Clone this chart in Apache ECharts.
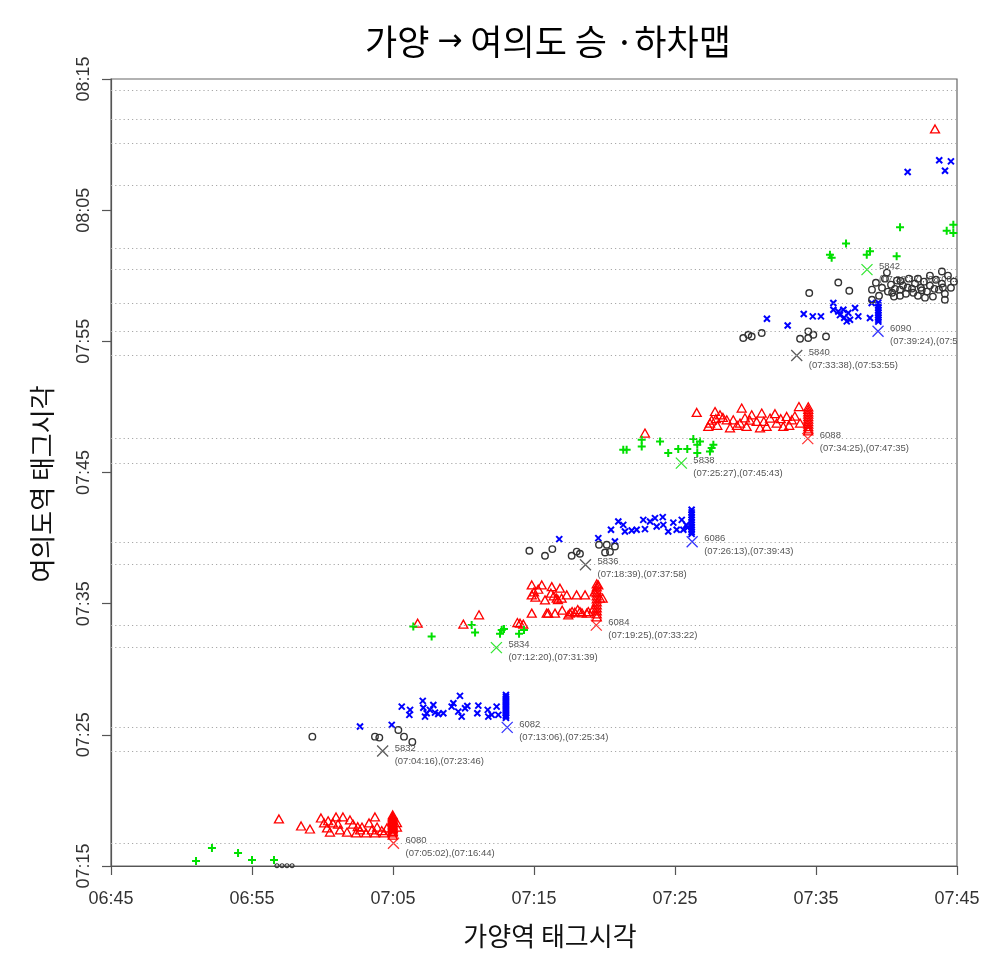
<!DOCTYPE html>
<html><head><meta charset="utf-8">
<script src="https://cdn.jsdelivr.net/npm/echarts@6/dist/echarts.min.js"></script>
<style>html,body{margin:0;padding:0;background:#fff}#c{width:1000px;height:974px}</style>
</head><body><div id="c"></div>
<script>
// Axis origins (minutes of day)
const X0 = 405; // 06:45
const Y0 = 435; // 07:15
const xTickLabels = ['06:45','06:55','07:05','07:15','07:25','07:35','07:45'];
const yTickLabels = ['07:15','07:25','07:35','07:45','07:55','08:05','08:15'];

// Annotated trains: id, Gayang tag time, Yeouido tag time
const annTrain = ['6080','5832','6082','5834','6084','5836','6086','5838','6088','5840','6090','5842'];
const annDep = ['07:05:02','07:04:16','07:13:06','07:12:20','07:19:25','07:18:39','07:26:13','07:25:27','07:34:25','07:33:38','07:39:24','07:38:37'];
const annArr = ['07:16:44','07:23:46','07:25:34','07:31:39','07:33:22','07:37:58','07:39:43','07:45:43','07:47:35','07:53:55','07:55:46','08:00:28'];

// Dotted reference lines (arrival times at Yeouido)
const gridTimes = ['07:16:44','07:23:46','07:25:34','07:31:39','07:33:22','07:37:58','07:39:43','07:45:43','07:47:35','07:53:55','07:55:46','07:57:52','08:00:28','08:02:04','08:06:52','08:10:04','08:11:54','08:14:07'];

// Passenger points [Gayang tag, Yeouido tag] in minutes of day
const green5830 = [[411.03,435.38],[412.16,436.37],[414.01,435.99],[415.00,435.46],[416.56,435.46]];
const black5830 = [[416.77,435.02],[417.13,435.02],[417.48,435.02],[417.84,435.02]];
const red6080 = [[416.91,438.59],[418.48,438.05],[419.11,437.82],[419.89,438.66],[420.11,438.28],[420.32,437.90],[420.53,437.59],[420.74,438.28],[420.96,438.74],[421.10,438.20],[421.45,438.74],[421.74,437.59],[422.16,438.20],[422.38,437.52],[422.80,437.97],[423.09,437.52],[423.30,438.28],[423.72,438.74],[423.87,437.97],[423.72,437.52],[424.36,437.52],[424.57,437.90],[424.98,438.89],[424.98,438.77],[424.98,438.66],[424.98,438.55],[424.98,438.43],[424.98,438.31],[424.98,438.20],[424.98,438.08],[424.98,437.97],[424.98,437.86],[424.98,437.75],[424.98,437.63],[424.98,437.52],[424.98,437.36],[425.28,437.97],[425.28,438.30],[421.24,437.75],[422.66,437.75],[421.95,438.51],[420.40,438.45],[422.50,438.00],[423.50,437.75],[424.20,437.70]];
const black5832 = [[419.28,444.86],[423.72,444.86],[424.03,444.79],[425.38,445.37],[425.78,444.86],[426.37,444.46]];
const blue6082 = [[422.66,445.63],[424.91,445.76],[425.62,447.15],[426.21,446.90],[426.16,446.52],[427.11,447.59],[427.15,447.07],[427.39,446.65],[427.27,446.39],[427.62,446.90],[427.86,447.28],[427.98,446.69],[428.21,446.59],[428.57,446.65],[429.16,447.15],[429.28,447.41],[429.75,447.97],[429.63,446.77],[429.87,446.39],[430.11,447.03],[430.27,447.20],[431.05,447.23],[430.98,446.65],[431.72,446.90],[431.76,446.39],[432.35,447.15],[432.47,446.52],[432.00,446.52],[433.01,448.04],[433.01,447.89],[433.01,447.74],[433.01,447.58],[433.01,447.43],[433.01,447.28],[433.01,447.13],[433.01,446.97],[433.01,446.82],[433.01,446.67],[433.01,446.52],[433.01,446.40],[433.01,446.29]];
const green5834 = [[426.44,453.25],[427.74,452.49],[430.58,453.38],[430.82,452.80],[432.71,453.00],[432.87,453.06],[432.59,452.70],[433.94,452.70],[434.29,453.00]];
const red6084 = [[426.75,453.51],[429.99,453.44],[431.10,454.15],[433.82,453.56],[434.24,453.44],[434.84,456.43],[434.84,455.67],[435.55,456.43],[436.26,456.30],[436.84,456.18],[436.96,455.42],[434.84,454.28],[436.01,454.28],[436.49,454.28],[437.55,454.28],[438.26,454.40],[438.74,454.28],[438.02,455.67],[438.62,455.67],[439.56,456.43],[439.68,455.42],[439.45,456.51],[439.45,456.28],[439.45,456.05],[439.45,455.83],[439.45,455.60],[439.45,455.37],[439.45,455.14],[439.45,454.91],[439.45,454.68],[439.45,454.45],[439.45,454.22],[439.45,454.00],[435.78,455.29],[436.61,455.42],[437.32,455.67],[435.90,454.28],[437.43,454.15],[438.85,454.40],[439.87,455.42],[434.01,453.51],[435.30,456.10],[436.20,455.80],[437.00,454.50],[437.90,454.35],[435.00,455.90],[435.10,455.50],[436.40,455.60],[436.70,455.30],[437.70,454.40],[438.10,454.55],[438.40,454.30],[439.20,454.60],[439.30,455.90]];
const black5836 = [[434.67,459.03],[435.78,458.65],[436.30,459.16],[437.67,458.65],[438.03,458.97],[438.26,458.80],[439.61,459.49],[440.04,458.90],[440.16,459.49],[440.74,459.36],[440.39,458.95]];
const blue6086 = [[436.79,459.92],[439.56,460.00],[440.74,459.74],[440.46,460.63],[440.98,461.26],[441.33,461.01],[441.45,460.50],[441.93,460.58],[442.28,460.63],[442.75,461.39],[442.87,460.68],[443.23,461.26],[443.58,461.52],[443.70,460.88],[444.13,461.60],[444.17,461.01],[444.52,460.50],[444.88,461.18],[445.12,460.63],[445.48,461.39],[445.59,460.63],[446.18,462.16],[446.18,461.96],[446.18,461.77],[446.18,461.58],[446.18,461.39],[446.18,461.20],[446.18,461.01],[446.18,460.82],[446.18,460.63],[446.18,460.47],[446.18,460.32],[445.80,461.00],[445.90,460.80]];
const green5838 = [[441.33,466.73],[441.57,466.73],[442.64,467.49],[442.64,466.98],[443.94,467.36],[444.52,466.48],[445.23,466.79],[445.87,466.79],[446.30,467.55],[446.58,467.11],[446.58,466.48],[446.77,467.36],[447.48,466.60],[447.72,467.11],[447.60,466.86]];
const red6088 = [[442.87,468.01],[446.54,469.58],[447.84,469.65],[447.48,468.77],[447.36,468.51],[448.19,469.40],[448.67,469.02],[449.13,469.02],[449.73,469.91],[449.61,468.77],[450.08,468.51],[450.44,469.40],[450.79,468.89],[451.15,469.53],[451.50,468.51],[451.74,469.15],[452.09,469.48],[452.21,468.77],[452.68,468.51],[452.92,469.27],[453.28,469.02],[453.79,470.03],[453.87,468.77],[454.45,470.01],[454.45,469.82],[454.45,469.63],[454.45,469.44],[454.45,469.25],[454.45,469.06],[454.45,468.87],[454.45,468.68],[454.45,468.49],[454.45,468.33],[454.45,468.18],[448.90,468.41],[451.03,468.41],[449.96,469.17],[447.90,469.10],[453.10,468.60],[448.00,468.60],[448.40,469.20],[449.40,468.60],[450.30,469.00],[451.30,468.90],[452.50,469.10],[453.50,469.30],[447.60,469.00]];
const black5840 = [[449.84,475.25],[450.20,475.50],[450.44,475.37],[451.15,475.63],[453.87,475.20],[454.45,475.76],[454.45,475.25],[454.81,475.50],[455.71,475.37],[454.52,478.68],[456.58,479.49],[457.36,478.86]];
const blue6090 = [[451.52,476.72],[452.99,476.21],[454.13,477.08],[454.77,476.90],[455.35,476.90],[456.23,477.92],[456.23,477.41],[456.58,477.28],[456.94,477.41],[457.29,477.16],[457.41,476.65],[457.77,477.54],[458.00,476.90],[457.18,476.52],[458.83,476.78],[458.95,477.92],[459.42,477.95],[459.42,477.75],[459.42,477.56],[459.42,477.37],[459.42,477.18],[459.42,476.99],[459.42,476.80],[459.42,476.65],[459.42,476.50],[456.70,477.00],[457.00,476.80]];
const black5844 = [[458.97,478.94],[459.25,479.47],[459.47,478.48],[459.68,479.09],[459.89,479.78],[460.10,478.79],[460.32,479.32],[460.53,478.41],[460.74,479.63],[460.96,478.94],[461.17,479.25],[461.38,478.63],[461.59,479.78],[461.81,479.02],[462.02,479.40],[462.23,478.48],[462.44,479.09],[462.66,479.55],[462.87,478.79],[463.08,479.25],[463.29,478.41],[463.51,479.70],[463.72,478.94],[463.93,479.40],[464.14,478.63],[464.36,480.01],[464.57,479.09],[464.78,479.55],[463.93,480.32],[463.08,480.01],[462.23,479.78],[460.03,480.24],[460.96,478.48],[462.73,478.33],[464.14,478.17],[458.97,478.17],[460.40,478.70],[461.00,479.60],[461.90,478.70],[462.50,478.90],[463.40,479.00],[464.00,479.10],[460.60,479.00],[461.50,479.10]];
const green5842 = [[455.99,481.61],[456.11,481.38],[457.13,482.45],[458.60,481.61],[458.83,481.86],[460.72,481.48],[460.96,483.69],[464.27,483.44],[464.74,483.89],[464.74,483.26]];
const blue6094 = [[461.50,487.91],[463.74,488.80],[464.15,488.01],[464.57,488.72]];
const red6092 = [[463.44,491.19]];

function toMin(s) { const p = s.split(':').map(Number); return p[0]*60 + p[1] + (p[2]||0)/60; }
function shift(arr) { return arr.map(d => [d[0]-X0, d[1]-Y0]); }

const RED = '#ff0000', BLUE = '#0000ff', GREEN = '#00e000', BLACK = '#333333';
const annColors = [RED, BLACK, BLUE, GREEN];
const PLUS = 'path://M5,0L5,10M0,5L10,5';
const CROSS = 'path://M0,0L10,10M10,0L0,10';
const FONT = '"Liberation Sans", Arial, sans-serif';
const KFONT = '"Noto Sans CJK KR", "Noto Sans", sans-serif';

function scat(data, symbol, color, size, bw) {
  return {
    type: 'scatter', data: shift(data), symbol: symbol, symbolSize: size, silent: true,
    itemStyle: { color: 'rgba(0,0,0,0)', borderColor: color, borderWidth: bw, opacity: 1 },
    emphasis: { disabled: true }
  };
}

const redAll = red6080.concat(red6084, red6088, red6092);
const blueAll = blue6082.concat(blue6086, blue6090, blue6094);
const greenAll = green5830.concat(green5834, green5838, green5842);
const blackAll = black5832.concat(black5836, black5840, black5844);

const annData = annTrain.map((t, i) => [toMin(annDep[i]) - X0, toMin(annArr[i]) - Y0, i]);

const chart = echarts.init(document.getElementById('c'), null, { renderer: 'canvas' });
chart.setOption({
  animation: false,
  backgroundColor: '#ffffff',
  grid: { left: 111, right: 43, top: 79, bottom: 108, show: true, borderColor: '#666', borderWidth: 1.2, backgroundColor: 'transparent' },
  xAxis: {
    type: 'value', min: 0, max: 60, interval: 10,
    axisLine: { show: true, onZero: false, lineStyle: { color: '#555', width: 1.2 } },
    axisTick: { show: true, length: 9, lineStyle: { color: '#555', width: 1.2 } },
    axisLabel: { formatter: v => xTickLabels[Math.round(v/10)], margin: 24, fontSize: 18, color: '#333', fontFamily: FONT },
    splitLine: { show: false }
  },
  yAxis: {
    type: 'value', min: 0, max: 60, interval: 10,
    axisLine: { show: true, onZero: false, lineStyle: { color: '#555', width: 1.2 } },
    axisTick: { show: true, length: 9, lineStyle: { color: '#555', width: 1.2 } },
    axisLabel: { formatter: v => yTickLabels[Math.round(v/10)], rotate: 90, margin: 18, fontSize: 18, color: '#333', fontFamily: FONT },
    splitLine: { show: false }
  },
  graphic: [
    { type: 'text', x: 548, y: 42, style: {
        text: '{k|가양 }{a|→}{k| 여의도 승 ·하차맵}',
        rich: { k: { font: '35px ' + KFONT, fill: '#000', color: '#000' }, a: { font: '30px "DejaVu Sans", sans-serif', fill: '#000', color: '#000' } },
        fill: '#000', align: 'center', verticalAlign: 'middle', textAlign: 'center', textVerticalAlign: 'middle' } },
    { type: 'text', x: 550, y: 936, style: { text: '가양역 태그시각', font: '26px ' + KFONT, fill: '#111', align: 'center', verticalAlign: 'middle', textAlign: 'center', textVerticalAlign: 'middle' } },
    { type: 'text', x: 42, y: 484, rotation: Math.PI/2, style: { text: '여의도역 태그시각', font: '26px ' + KFONT, fill: '#111', align: 'center', verticalAlign: 'middle', textAlign: 'center', textVerticalAlign: 'middle' } }
  ],
  series: [
    {
      type: 'custom', coordinateSystem: 'cartesian2d', clip: true, silent: true, data: annData,
      renderItem: function (params, api) {
        const i = api.value(2);
        const p = api.coord([api.value(0), api.value(1)]);
        const f = '9.5px ' + FONT;
        return { type: 'group', children: [
          { type: 'text', x: p[0] + 12, y: p[1] - 3, style: { text: annTrain[i], font: f, fill: '#555', align: 'left', verticalAlign: 'middle', textAlign: 'left', textVerticalAlign: 'middle' } },
          { type: 'text', x: p[0] + 12, y: p[1] + 10, style: { text: '(' + annDep[i] + '),(' + annArr[i] + ')', font: f, fill: '#555', align: 'left', verticalAlign: 'middle', textAlign: 'left', textVerticalAlign: 'middle' } }
        ]};
      },
      markLine: {
        silent: true, symbol: ['none', 'none'], label: { show: false },
        lineStyle: { type: [1.2, 3], color: '#a8a8a8', width: 1.2 },
        data: gridTimes.map(t => ({ yAxis: toMin(t) - Y0 }))
      }
    },
    scat(redAll, 'triangle', RED, [9, 8], 1.3),
    scat(blueAll, CROSS, BLUE, 6, 2),
    scat(greenAll, PLUS, GREEN, 8, 2),
    scat(blackAll, 'circle', BLACK, 6.5, 1.4),
    scat(black5830, 'circle', BLACK, 4, 1.2),
    {
      type: 'scatter', silent: true, symbol: CROSS, symbolSize: 11,
      data: annData.map(d => ({ value: [d[0], d[1]], itemStyle: { color: 'rgba(0,0,0,0)', borderColor: annColors[d[2] % 4], borderWidth: 1.3 } })),
      emphasis: { disabled: true }
    }
  ]
});
</script>
</body></html>
